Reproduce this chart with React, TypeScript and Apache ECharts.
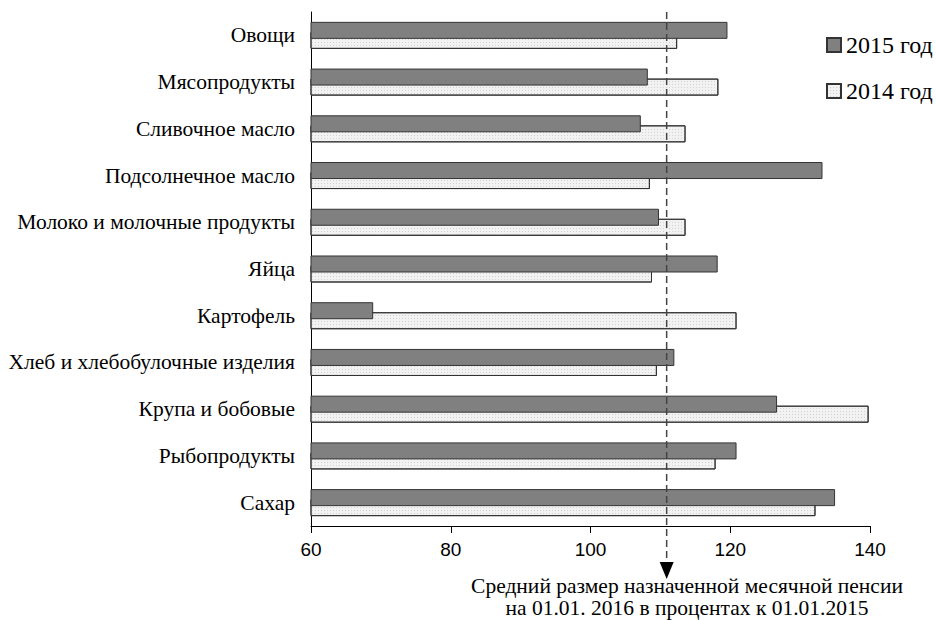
import React, { useEffect, useRef } from "react";
import * as echarts from "echarts";

const categories = [
  "Овощи",
  "Мясопродукты",
  "Сливочное масло",
  "Подсолнечное масло",
  "Молоко и молочные продукты",
  "Яйца",
  "Картофель",
  "Хлеб и хлебобулочные изделия",
  "Крупа и бобовые",
  "Рыбопродукты",
  "Сахар",
];
const values2015 = [119.6, 108.2, 107.2, 133.2, 109.8, 118.2, 68.9, 112.0, 126.7, 120.9, 135.0];
const values2014 = [112.4, 118.3, 113.6, 108.5, 113.6, 108.8, 120.9, 109.5, 139.8, 117.9, 132.2];
const seriesNames = ["2015 год", "2014 год"];
const pensionIndex = 110.9;
const xMin = 60;
const xMax = 140;
const xInterval = 20;
const noteLines = [
  "Средний размер назначенной месячной пенсии",
  "на 01.01. 2016 в процентах к 01.01.2015",
];

const SERIF = "'Liberation Serif', 'Times New Roman', serif";
const SANS = "'Liberation Sans', Arial, sans-serif";

export default function App() {
  const ref = useRef<HTMLDivElement>(null);
  useEffect(() => {
    document.body.style.margin = "0";
    if (!ref.current) return;
    const chart = echarts.init(ref.current, undefined, { renderer: "svg" });
    chart.setOption({
      animation: false,
      backgroundColor: "#ffffff",
      grid: { left: 311, right: 66, top: 12, bottom: 94, containLabel: false },
      legend: {
        data: seriesNames,
        orient: "vertical",
        left: 821,
        top: 28,
        itemWidth: 14,
        itemHeight: 14,
        itemGap: 22,
        itemTextGap: 6,
        icon: "rect",
        textStyle: { fontFamily: SERIF, fontSize: 24, color: "#000" },
      },
      xAxis: {
        type: "value",
        min: xMin,
        max: xMax,
        interval: xInterval,
        axisLine: { show: true, lineStyle: { color: "#000", width: 1 } },
        axisTick: { show: true, length: 7, lineStyle: { color: "#000" } },
        splitLine: { show: false },
        axisLabel: { fontFamily: SANS, fontSize: 19, color: "#000", margin: 14 },
      },
      yAxis: {
        type: "category",
        data: categories,
        inverse: true,
        axisLine: { show: true, lineStyle: { color: "#000", width: 1 } },
        axisTick: { show: false },
        axisLabel: { fontFamily: SERIF, fontSize: 21.5, color: "#000", margin: 16 },
      },
      series: [
        {
          name: seriesNames[0],
          type: "bar",
          data: values2015,
          barWidth: 17,
          barGap: "-41%",
          z: 3,
          itemStyle: { color: "#808080", borderColor: "#333", borderWidth: 1 },
        },
        {
          name: seriesNames[1],
          type: "bar",
          data: values2014,
          barWidth: 17,
          z: 2,
          itemStyle: {
            color: "#f2f2f2",
            borderColor: "#333",
            borderWidth: 1,
            decal: {
              symbol: "rect",
              symbolSize: 1,
              color: "rgba(170,170,170,0.45)",
              dashArrayX: [1, 2],
              dashArrayY: [1, 2],
              rotation: 0,
            },
          },
        },
      ],
    });
    const px = chart.convertToPixel({ xAxisIndex: 0 }, pensionIndex) as number;
    chart.setOption({
      graphic: [
        {
          type: "line",
          z: 10,
          shape: { x1: px, y1: 12, x2: px, y2: 562 },
          style: { stroke: "#444", lineWidth: 1.5, lineDash: [7, 4] },
        },
        {
          type: "polygon",
          z: 10,
          shape: { points: [[px - 7, 562], [px + 7, 562], [px, 579]] },
          style: { fill: "#000" },
        },
        {
          type: "text",
          x: 687,
          y: 597,
          style: {
            text: noteLines.join("\n"),
            fontFamily: SERIF,
            fontSize: 21.5,
            lineHeight: 22,
            fill: "#000",
            textAlign: "center",
            textVerticalAlign: "middle",
          },
        },
      ],
    });
    return () => chart.dispose();
  }, []);
  return <div ref={ref} style={{ width: 936, height: 620 }} />;
}
